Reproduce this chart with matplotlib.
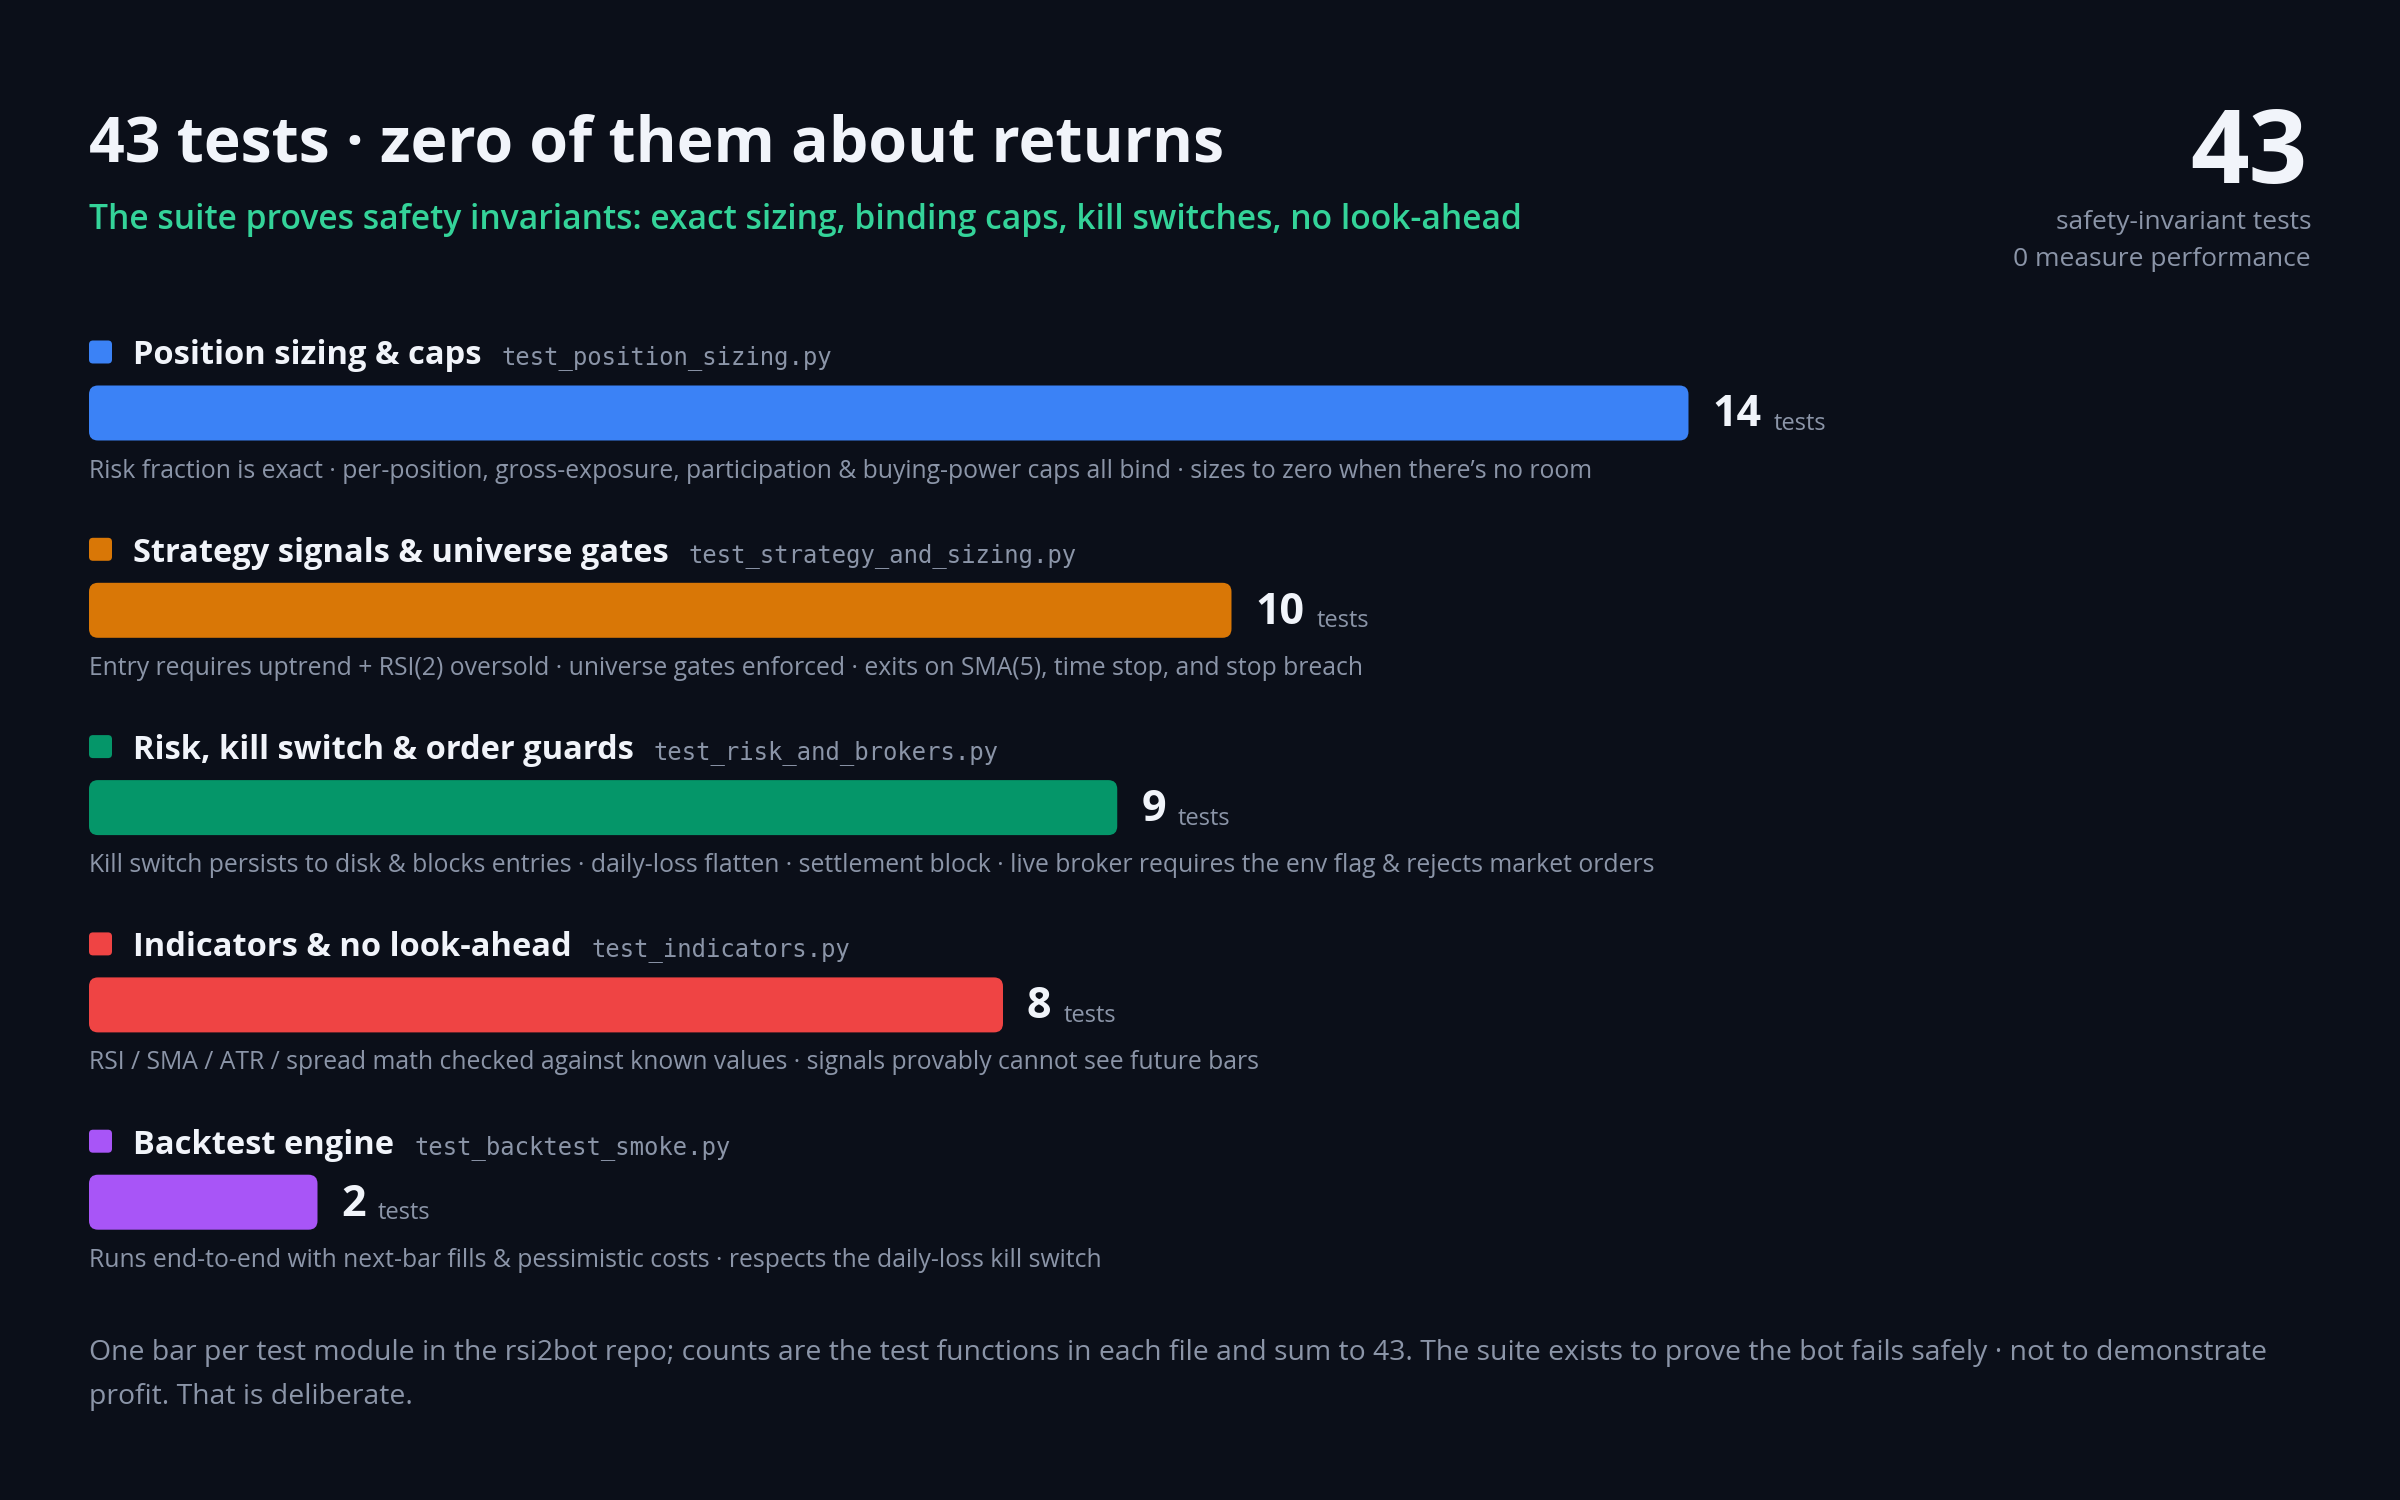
import matplotlib
matplotlib.use("Agg")
import matplotlib.pyplot as plt
from matplotlib.patches import FancyBboxPatch
from matplotlib import transforms

# data
categories = [
    "Position sizing & caps",
    "Strategy signals & universe gates",
    "Risk, kill switch & order guards",
    "Indicators & no look-ahead",
    "Backtest engine",
]
files = [
    "test_position_sizing.py",
    "test_strategy_and_sizing.py",
    "test_risk_and_brokers.py",
    "test_indicators.py",
    "test_backtest_smoke.py",
]
counts = [14, 10, 9, 8, 2]
descriptions = [
    "Risk fraction is exact \u00b7 per-position, gross-exposure, participation & buying-power caps all bind \u00b7 sizes to zero when there\u2019s no room",
    "Entry requires uptrend + RSI(2) oversold \u00b7 universe gates enforced \u00b7 exits on SMA(5), time stop, and stop breach",
    "Kill switch persists to disk & blocks entries \u00b7 daily-loss flatten \u00b7 settlement block \u00b7 live broker requires the env flag & rejects market orders",
    "RSI / SMA / ATR / spread math checked against known values \u00b7 signals provably cannot see future bars",
    "Runs end-to-end with next-bar fills & pessimistic costs \u00b7 respects the daily-loss kill switch",
]
colors = ["#3b82f6", "#d97706", "#059669", "#ef4444", "#a855f7"]

title = "43 tests \u00b7 zero of them about returns"
subtitle = "The suite proves safety invariants: exact sizing, binding caps, kill switches, no look-ahead"
total_label = str(sum(counts))
total_lines = ["safety-invariant tests", "0 measure performance"]
footer = ("One bar per test module in the rsi2bot repo; counts are the test functions in each file and sum to 43. "
          "The suite exists to prove the bot fails safely \u00b7 not to demonstrate\nprofit. That is deliberate.")

BG = "#0b0f19"
WHITE = "#f1f4fa"
GRAY = "#8b95a8"
GREEN = "#34d399"
SANS = ["Open Sans", "DejaVu Sans"]
MONO = ["DejaVu Sans Mono"]

W, H = 2400, 1500
fig = plt.figure(figsize=(24, 15), dpi=100, facecolor=BG)
ax = fig.add_axes([0, 0, 1, 1])
ax.set_xlim(0, W)
ax.set_ylim(H, 0)
ax.axis("off")

left = 89
ax.text(left, 162, title, fontsize=45, fontweight="bold", color=WHITE, family=SANS, va="baseline")
ax.text(left, 229, subtitle, fontsize=24.25, fontweight=600, color=GREEN, family=SANS, va="baseline")

right = 2311
ax.text(2307, 183, total_label, fontsize=74, fontweight="bold", color=WHITE, family=SANS,
        ha="right", va="baseline")
ax.text(right, 229, total_lines[0], fontsize=19, color=GRAY, family=SANS, ha="right", va="baseline")
ax.text(right, 266, total_lines[1], fontsize=19, color=GRAY, family=SANS, ha="right", va="baseline")

# bar axes: x in tests, y in pixels
px_per_test = 1045 * W / 1568 / 14
bax = fig.add_axes([left / W, 0, px_per_test * 20 / W, 1])
bax.set_xlim(0, 20)
bax.set_ylim(H, 0)
bax.axis("off")

fig.canvas.draw()
renderer = fig.canvas.get_renderer()

row0, step = 352, 197.3
bar_h = 55
for i, (cat, fname, n, desc, c) in enumerate(zip(categories, files, counts, descriptions, colors)):
    yh = row0 + i * step
    # marker
    ax.add_patch(FancyBboxPatch((left, yh - 11.5), 23, 23, boxstyle="round,pad=0,rounding_size=4",
                                fc=c, ec="none"))
    t = ax.text(133, yh + 4, cat, fontsize=23.5, fontweight="bold", color=WHITE, family=SANS, va="center")
    bb = t.get_window_extent(renderer)
    ax.text(bb.x1 + 20, yh + 6, fname, fontsize=17.2, color=GRAY, family=MONO, va="center")

    # bar
    yb = yh + 61
    r = 9 / px_per_test
    bax.add_patch(FancyBboxPatch((0, yb - bar_h / 2), n, bar_h,
                                 boxstyle=f"round,pad=0,rounding_size={r}",
                                 mutation_aspect=px_per_test, fc=c, ec="none"))
    tr = transforms.offset_copy(bax.transData, fig=fig, x=16 * 72 / 100 * 1.5, y=0, units="points")
    v = bax.text(n, yb + 2, str(n), fontsize=31, fontweight="bold", color=WHITE, family=SANS,
                 va="center", transform=tr)
    vb = v.get_window_extent(renderer)
    ax.text(vb.x1 + 12, yb + 17, "tests", fontsize=17, color=GRAY, family=SANS, va="baseline")

    ax.text(left, yh + 119, desc, fontsize=17.85, color=GRAY, family=SANS, va="center")

ax.text(left, 1375, footer, fontsize=20.4, color=GRAY, family=SANS, va="center", linespacing=1.72)

fig.savefig("out.png", dpi=100, facecolor=BG)
